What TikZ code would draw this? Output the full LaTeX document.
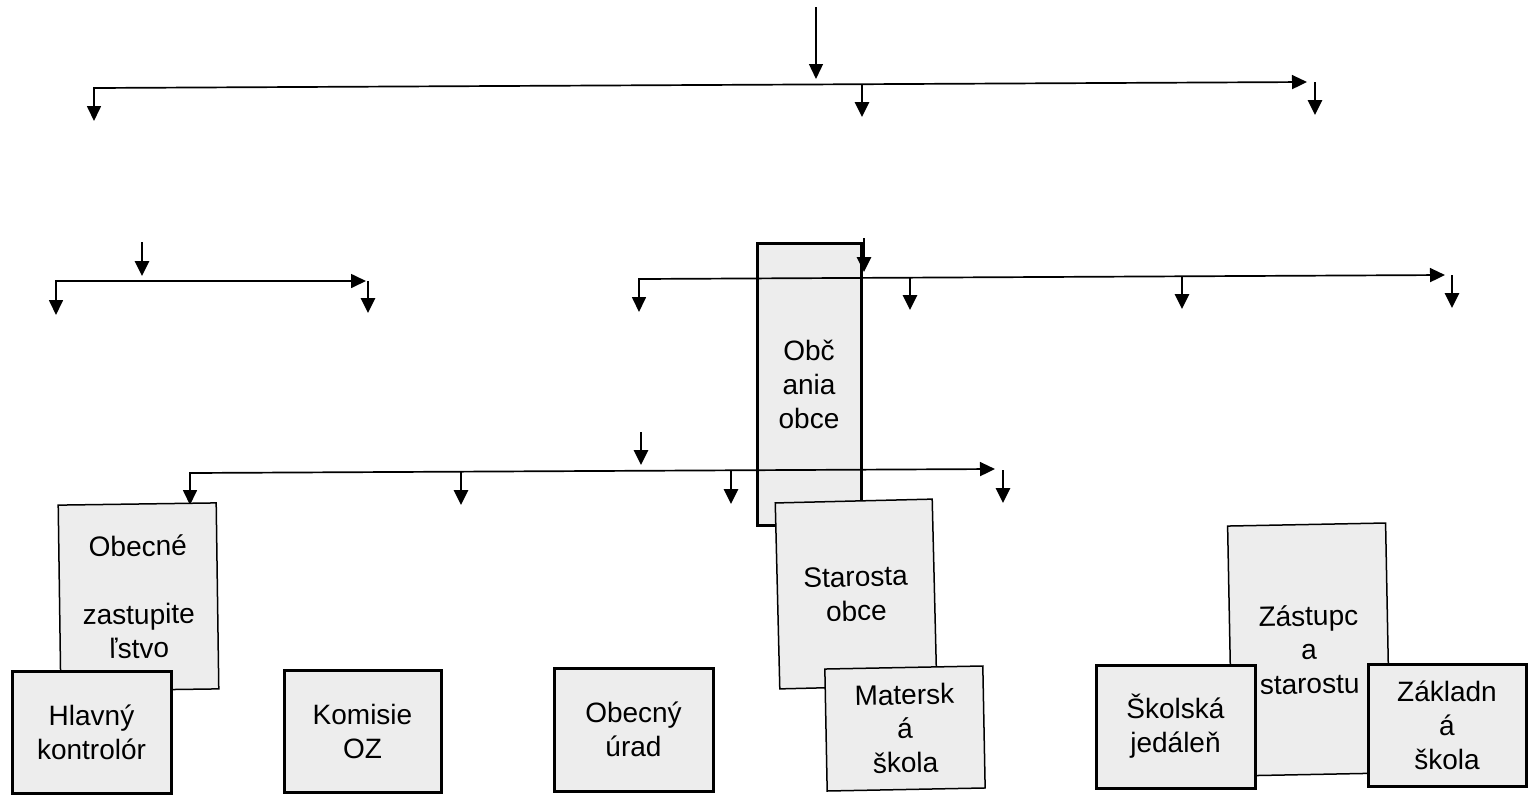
\documentclass[tikz,border=0pt]{standalone}
\usepackage{fontspec}
\setmainfont{Liberation Sans}
\usetikzlibrary{arrows.meta}
\definecolor{boxfill}{RGB}{237,237,237}
\begin{document}
\begin{tikzpicture}[x=0.5pt,y=-0.5pt,
  box/.style={draw=black, fill=boxfill, inner sep=0pt, align=center,
              font=\fontsize{14}{17}\selectfont, line join=miter},
  thickbox/.style={box, line width=1.5pt},
  thinbox/.style={box, line width=0.75pt},
  feed/.style={line width=0.65pt, -{Triangle[length=7.5pt,width=7pt]}},
  rail/.style={line width=0.85pt, {Triangle[length=7.5pt,width=7pt]}-{Triangle[length=7.5pt,width=7pt]}},
  drop/.style={line width=1.35pt, -{Triangle[length=7.5pt,width=7pt]}}
]
\useasboundingbox (0,0) rectangle (1528,794);

% citizens box (drawn first, lines cross it)
\node[thickbox, minimum width=52pt, minimum height=141pt] (obcania) at (809,384) {Obč\\ania\\obce};

% ---- level 1 ----
\coordinate (t1s) at (816,7);    \coordinate (t1e) at (816,79);
\coordinate (r1l) at (94,121);   \coordinate (r1c) at (94,88);  \coordinate (r1r) at (1307,82);
\coordinate (d1as) at (862,84);  \coordinate (d1ae) at (862,117);
\coordinate (d1bs) at (1315,82); \coordinate (d1be) at (1315,115);
\draw[feed] (t1s) -- (t1e);
\draw[rail] (r1l) -- (r1c) -- (r1r);
\draw[drop] (d1as) -- (d1ae);
\draw[drop] (d1bs) -- (d1be);

% ---- level 2 left ----
\coordinate (t2s) at (142,242);  \coordinate (t2e) at (142,276);
\coordinate (r2l) at (56,315);   \coordinate (r2c) at (56,281); \coordinate (r2r) at (366,281);
\coordinate (d2as) at (368,281); \coordinate (d2ae) at (368,313);
\draw[drop] (t2s) -- (t2e);
\draw[rail] (r2l) -- (r2c) -- (r2r);
\draw[drop] (d2as) -- (d2ae);

% ---- level 2 right ----
\coordinate (t3s) at (864,238);  \coordinate (t3e) at (864,272);
\coordinate (r3l) at (639,312);  \coordinate (r3c) at (639,279); \coordinate (r3r) at (1445,275);
\coordinate (d3as) at (910,278); \coordinate (d3ae) at (910,310);
\coordinate (d3bs) at (1182,277);\coordinate (d3be) at (1182,309);
\coordinate (d3cs) at (1452,275);\coordinate (d3ce) at (1452,308);
\draw[drop] (t3s) -- (t3e);
\draw[rail] (r3l) -- (r3c) -- (r3r);
\draw[drop] (d3as) -- (d3ae);
\draw[drop] (d3bs) -- (d3be);
\draw[drop] (d3cs) -- (d3ce);

% ---- level 3 ----
\coordinate (t4s) at (641,432);  \coordinate (t4e) at (641,465);
\coordinate (r4l) at (190,505);  \coordinate (r4c) at (190,473); \coordinate (r4r) at (995,469);
\coordinate (d4as) at (461,472); \coordinate (d4ae) at (461,505);
\coordinate (d4bs) at (731,470); \coordinate (d4be) at (731,504);
\coordinate (d4cs) at (1003,470);\coordinate (d4ce) at (1003,503);
\draw[drop] (t4s) -- (t4e);
\draw[rail] (r4l) -- (r4c) -- (r4r);
\draw[drop] (d4as) -- (d4ae);
\draw[drop] (d4bs) -- (d4be);
\draw[drop] (d4cs) -- (d4ce);

% ---- boxes ----
\node[thinbox, minimum width=79pt, minimum height=93pt, rotate=0.8] (oz) at (138.5,597) {Obecné\\\mbox{}\\zastupite\\ľstvo};
\node[thickbox, minimum width=79.5pt, minimum height=61pt] (hk) at (91.5,732) {Hlavný\\kontrolór};
\node[thickbox, minimum width=78.5pt, minimum height=61pt] (kom) at (362.5,731) {Komisie\\OZ};
\node[thickbox, minimum width=79.5pt, minimum height=61.5pt] (ou) at (633.5,729.5) {Obecný\\úrad};
\node[thinbox, minimum width=78.5pt, minimum height=93pt, rotate=1.4] (star) at (856,594) {Starosta\\obce};
\node[thinbox, minimum width=79pt, minimum height=61pt, rotate=1.1] (ms) at (905,728.5) {Matersk\\á\\škola};
\node[thinbox, minimum width=79pt, minimum height=125pt, rotate=1.1] (zs) at (1309,649.5) {Zástupc\\a\\starostu};
\node[thickbox, minimum width=79.5pt, minimum height=61.5pt] (sj) at (1175.5,726.5) {Školská\\jedáleň};
\node[thickbox, minimum width=79pt, minimum height=61pt] (zak) at (1447,725) {Základn\\á\\škola};
\end{tikzpicture}
\end{document}
